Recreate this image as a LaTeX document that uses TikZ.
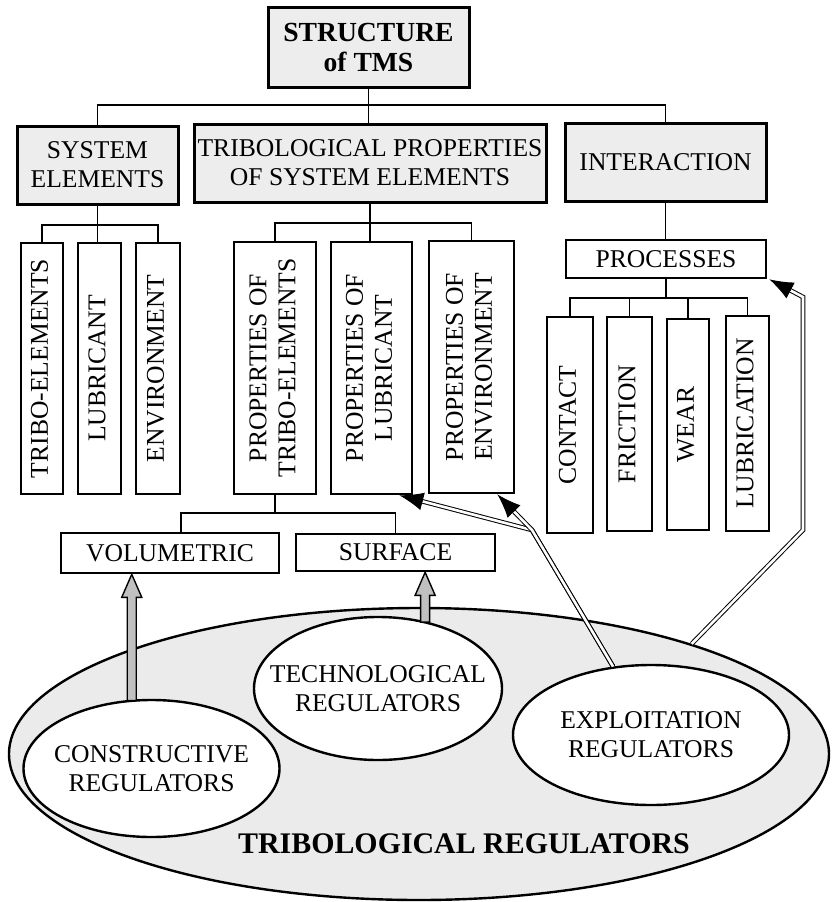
\documentclass[tikz,border=0pt]{standalone}
\usepackage{fontspec}
\setmainfont{Liberation Serif}
\usepackage{graphicx}
\usetikzlibrary{shapes.geometric}
\usetikzlibrary{arrows.meta,calc}
\definecolor{boxgray}{RGB}{237,237,237}
\definecolor{regfill}{RGB}{235,235,235}
\definecolor{shaftgray}{RGB}{192,192,192}
\tikzset{
    txt/.style={font=\fontsize{25.6}{29}\selectfont},
    plainbox/.style={draw, line width=2.6pt, fill=white, inner sep=0pt, align=center, txt},
    graybox/.style={plainbox, line width=3pt, fill=boxgray},
    regell/.style={ellipse, draw, line width=2.4pt, fill=white, inner sep=0pt},
    conn/.style={line width=1.5pt},
    dblline/.style={double, double distance=2.6pt, line width=1pt, line join=miter, shorten >=22pt},
    headtip/.style={line width=1pt, -{Latex[length=24pt,width=18pt]}},
    blockarr/.style={fill=shaftgray, draw, line width=1.4pt, line join=miter},
}
\newcommand{\vlabel}[1]{\rotatebox{90}{\begin{tabular}{@{}c@{}}#1\end{tabular}}}
\newcommand{\upblock}[2]{%
    \filldraw[blockarr] let \p1=#1, \p2=#2 in
        (\x1-4.5pt,\y1-1pt) -- (\x1-4.5pt,\y2-23pt) -- (\x1-10pt,\y2-23pt) -- (\x1,\y2)
        -- (\x1+10pt,\y2-23pt) -- (\x1+4.5pt,\y2-23pt) -- (\x1+4.5pt,\y1-1pt) -- cycle;}

\begin{document}
\begin{tikzpicture}[x=1pt,y=-1pt]
\useasboundingbox (0,0) rectangle (833,902);
\node[graybox, minimum width=201pt, minimum height=80pt, font=\fontsize{27.6}{30}\selectfont\bfseries] (tms) at (368.5,47) {STRUCTURE\\of TMS};
\node[graybox, minimum width=161pt, minimum height=78pt] (syselem) at (97.5,165) {SYSTEM\\ELEMENTS};
\node[graybox, minimum width=352pt, minimum height=78pt] (tribprop) at (370,163) {TRIBOLOGICAL PROPERTIES\\OF SYSTEM ELEMENTS};
\node[graybox, minimum width=201pt, minimum height=78pt] (interact) at (665.5,162) {INTERACTION};

\node[plainbox, minimum width=42pt, minimum height=251pt] (tribo) at (42,368.5) {\vlabel{TRIBO-ELEMENTS}};
\node[plainbox, minimum width=43pt, minimum height=251pt] (lubric) at (99.5,368.5) {\vlabel{LUBRICANT}};
\node[plainbox, minimum width=44pt, minimum height=251pt] (envir) at (158,368.5) {\vlabel{ENVIRONMENT}};
\node[plainbox, minimum width=82pt, minimum height=252pt] (proptribo) at (275,368) {\vlabel{PROPERTIES OF\\TRIBO-ELEMENTS}};
\node[plainbox, minimum width=81pt, minimum height=252pt] (proplub) at (371.5,368) {\vlabel{PROPERTIES OF\\LUBRICANT}};
\node[plainbox, minimum width=85pt, minimum height=252pt] (propenv) at (471.5,367) {\vlabel{PROPERTIES OF\\ENVIRONMENT}};

\node[plainbox, minimum width=200pt, minimum height=38pt] (procs) at (666,259) {PROCESSES};
\node[plainbox, minimum width=46pt, minimum height=216pt] (contact) at (570,425) {\vlabel{CONTACT}};
\node[plainbox, minimum width=45pt, minimum height=214pt] (friction) at (629.5,424) {\vlabel{FRICTION}};
\node[plainbox, minimum width=42pt, minimum height=211pt] (wear) at (688,424.5) {\vlabel{WEAR}};
\node[plainbox, minimum width=43pt, minimum height=215pt] (lubrication) at (747.5,423.5) {\vlabel{LUBRICATION}};

\node[plainbox, minimum width=218pt, minimum height=40pt] (volum) at (170,553) {VOLUMETRIC};
\node[plainbox, minimum width=199pt, minimum height=37pt] (surface) at (395.5,552.5) {SURFACE};

\coordinate (bus1) at (368.5,105);
\draw[conn] (tms.south) -- (tms.south |- tribprop.north);
\draw[conn] (syselem.north) |- (bus1) -| (interact.north);
\coordinate (bus2) at (97.5,225);
\draw[conn] (syselem.south) -- (syselem.south |- lubric.north);
\draw[conn] (tribo.north) |- (bus2) -| (envir.north);
\coordinate (bus3) at (370,223);
\draw[conn] (tribprop.south) -- (tribprop.south |- proplub.north);
\draw[conn] (proptribo.north) |- (bus3) -| (propenv.north);
\draw[conn] (interact.south) -- (interact.south |- procs.north);
\coordinate (bus4) at (666,298);
\draw[conn] (procs.south) -- (bus4);
\draw[conn] (contact.north) |- (bus4) -| (lubrication.north);
\draw[conn] (friction.north) -- (friction.north |- bus4);
\draw[conn] (wear.north) -- (wear.north |- bus4);
\coordinate (bus5) at (275,513);
\draw[conn] (proptribo.south) -- (bus5);
\draw[conn] ([xshift=11pt]volum.north) |- (bus5) -| (surface.north);

\node[regell, fill=regfill, minimum width=820pt, minimum height=292pt] (tribreg) at (419,754) {};
\node[regell, minimum width=256pt, minimum height=137pt] (constr) at (151.5,768.5) {};
\node[regell, minimum width=248pt, minimum height=143pt] (techno) at (378,688.5) {};
\node[regell, minimum width=276pt, minimum height=140pt] (exploit) at (651,735) {};
\node[txt, align=center] (constrtxt) at (constr) {CONSTRUCTIVE\\REGULATORS};
\node[txt, align=center] (technotxt) at (techno) {TECHNOLOGICAL\\REGULATORS};
\node[txt, align=center] (exploittxt) at (exploit) {EXPLOITATION\\REGULATORS};
\node[font=\fontsize{29.9}{34}\selectfont\bfseries] (tribregtxt) at (464,844) {TRIBOLOGICAL REGULATORS};

\coordinate (pbend1) at (803,530);
\coordinate (pbend2) at (803,297);
\coordinate (fork) at (532,530);
\coordinate (tipproc) at ([xshift=2pt]procs.south east);
\coordinate (tiplub) at ([xshift=-14pt]proplub.south east);
\coordinate (tipenv) at ([xshift=-18pt]propenv.south east);
\draw[dblline] (tribreg.22) -- (pbend1) -- (pbend2) -- (tipproc);
\draw[headtip] ($(tipproc)!24pt!(pbend2)$) -- (tipproc);
\draw[dblline] (exploit.119) -- (fork) -- (tiplub);
\draw[headtip] ($(tiplub)!24pt!(fork)$) -- (tiplub);
\draw[dblline] (exploit.119) -- (fork) -- (tipenv);
\draw[headtip] ($(tipenv)!24pt!(fork)$) -- (tipenv);

\upblock{(constr.106)}{(volum.south)}
\upblock{(techno.55)}{(surface.south)}
\end{tikzpicture}
\end{document}
